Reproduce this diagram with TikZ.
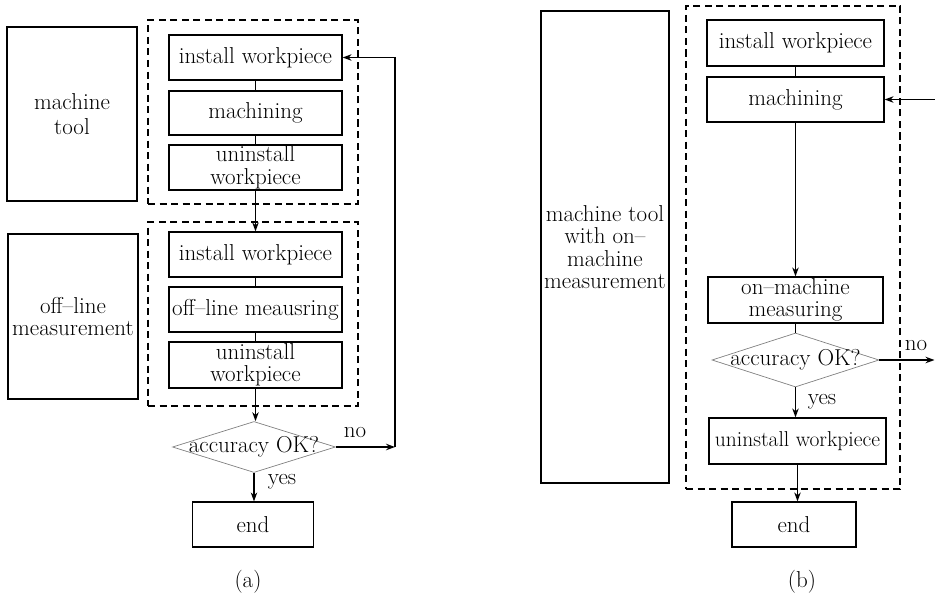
\documentclass[tikz,border=0pt]{standalone}
\usetikzlibrary{shapes.geometric,arrows.meta}
\newcommand{\dfont}{\fontsize{23}{22.5}\selectfont}
\begin{document}
\begin{tikzpicture}[x=1pt,y=-1pt,
 box/.style={draw,line width=1.2pt,inner sep=0pt,align=center,font=\dfont},
 grp/.style={draw,line width=1.2pt,dash pattern=on 7pt off 4.5pt,inner sep=0pt},
 dia/.style={draw=gray,line width=0.7pt,shape=diamond,inner sep=0pt,font=\dfont},
 arr/.style={line width=1.2pt,-{Stealth[length=9pt,width=6.5pt]}},
 ln/.style={line width=1pt},
 lbl/.style={inner sep=0pt,font=\dfont}]
\useasboundingbox (0,0) rectangle (935,594);
% ---------- (a) ----------
\node[box,minimum width=130pt,minimum height=174pt] (mt) at (72,114) {machine\\[2pt]tool};
\node[grp,minimum width=210pt,minimum height=184pt] (g1) at (253,112) {};
\node[box,minimum width=173pt,minimum height=45pt] (iw1) at (255.5,57.5) {install workpiece};
\node[box,minimum width=173pt,minimum height=44pt] (ma1) at (255.5,113) {machining};
\node[box,minimum width=173pt,minimum height=45pt] (uw1) at (255.5,167.5) {uninstall\\workpiece};
\node[box,minimum width=130pt,minimum height=165pt] (olm) at (73,316.5) {off--line\\measurement};
\node[grp,minimum width=210pt,minimum height=184pt] (g2) at (253,314) {};
\node[box,minimum width=173pt,minimum height=45pt] (iw2) at (255.5,254.5) {install workpiece};
\node[box,minimum width=173pt,minimum height=45pt] (om1) at (255.5,309.5) {off--line meausring};
\node[box,minimum width=173pt,minimum height=46pt] (uw2) at (255.5,365) {uninstall\\workpiece};
\node[dia,minimum width=163pt,minimum height=51pt] (d1) at (254,447) {\makebox[0pt]{accuracy OK?}};
\node[box,minimum width=121pt,minimum height=45pt] (end1) at (253,524.5) {end};
\coordinate (c1) at (395,447);
\draw[ln] (iw1) -- (ma1);
\draw[ln] (ma1) -- (uw1);
\draw[arr] (uw1) -- (iw2);
\draw[ln] (iw2) -- (om1);
\draw[ln] (om1) -- (uw2);
\draw[arr] (uw2.south) -- (uw2.south |- d1.north);
\draw[arr] (d1.south) -- (d1.south |- end1.north);
\draw[arr] (d1.east) -- (c1);
\draw[arr] (c1) |- (iw1.east);
\node[lbl] (no1) at (355,433) {no};
\node[lbl] (yes1) at (282,482) {yes};
\node[lbl] (capa) at (248,582) {(a)};
% ---------- (b) ----------
\node[box,minimum width=128pt,minimum height=472pt] (mt2) at (605,247) {machine tool\\with on--\\machine\\measurement};
\node[grp,minimum width=214pt,minimum height=483pt] (g3) at (793,247.5) {};
\node[box,minimum width=177pt,minimum height=46pt] (iw3) at (795.5,43) {install workpiece};
\node[box,minimum width=177pt,minimum height=45pt] (ma3) at (795.5,99.5) {machining};
\node[box,minimum width=175pt,minimum height=46pt] (oms) at (795.5,300) {on--machine\\measuring};
\node[dia,minimum width=167pt,minimum height=54pt] (d2) at (795.5,360) {\makebox[0pt]{accuracy OK?}};
\node[box,minimum width=177pt,minimum height=46pt,font=\fontsize{21.5}{22}\selectfont] (uw3) at (797.5,441) {uninstall workpiece};
\node[box,minimum width=124pt,minimum height=45pt] (end2) at (794,524.5) {end};
\coordinate (e1) at (934.5,360);
\coordinate (e2) at (935,99.5);
\draw[ln] (iw3) -- (ma3);
\draw[arr] (ma3) -- (oms);
\draw[ln] (oms) -- (d2);
\draw[arr] (d2.south) -- (d2.south |- uw3.north);
\draw[arr] (uw3.south) -- (uw3.south |- end2.north);
\draw[arr] (d2.east) -- (e1);
\draw[arr] (e2) -- (ma3.east);
\node[lbl] (no2) at (916,346) {no};
\node[lbl] (yes2) at (822,402) {yes};
\node[lbl] (capb) at (802,582) {(b)};
\end{tikzpicture}
\end{document}
